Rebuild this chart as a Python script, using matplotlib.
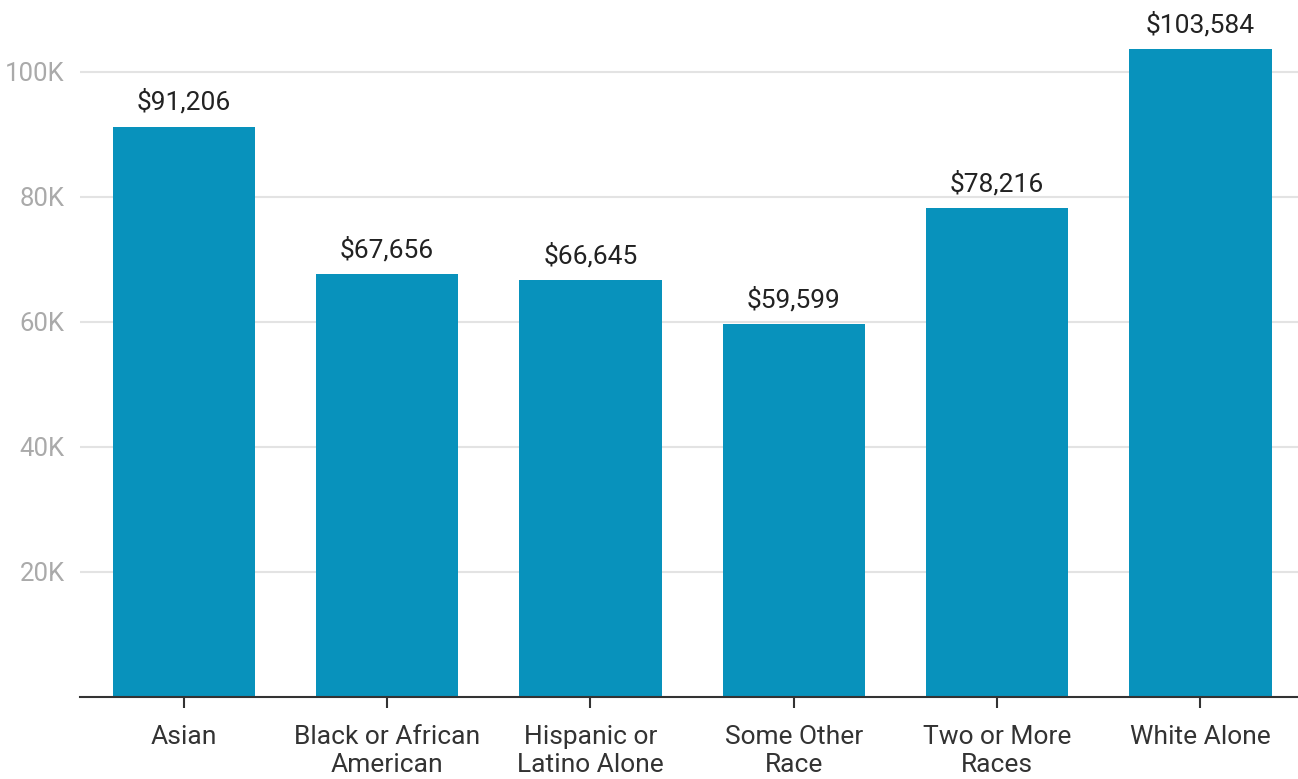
import matplotlib.pyplot as plt

plt.rcParams['font.family'] = ['Roboto', 'DejaVu Sans']

categories = ["Asian", "Black or African\nAmerican", "Hispanic or\nLatino Alone",
              "Some Other\nRace", "Two or More\nRaces", "White Alone"]
income = [91206, 67656, 66645, 59599, 78216, 103584]
yticks = [20000, 40000, 60000, 80000, 100000]
ytick_labels = ["20K", "40K", "60K", "80K", "100K"]

fig = plt.figure(figsize=(12.98, 7.79), dpi=100)
ax = fig.add_axes([80 / 1298, 1 - 697 / 779, 1 - 80 / 1298, 697 / 779])

x = range(len(categories))
bars = ax.bar(x, income, width=0.70, color='#0892bc', zorder=2)
for b, v in zip(bars, income):
    ax.annotate(f"${v:,}", (b.get_x() + b.get_width() / 2, v),
                xytext=(0, 12), textcoords='offset pixels',
                ha='center', va='bottom', fontsize=19, color='#222222')

ax.set_xlim(-0.51, 5.48)
ax.set_ylim(0, 111500)
ax.set_yticks(yticks)
ax.set_yticklabels(ytick_labels)
ax.set_xticks(list(x))
ax.set_xticklabels(categories)
ax.grid(axis='y', color='#e3e3e3', linewidth=1.5, zorder=0)

for s in ['top', 'right', 'left']:
    ax.spines[s].set_visible(False)
ax.spines['bottom'].set_color('#333333')
ax.spines['bottom'].set_linewidth(1.5)

ax.tick_params(axis='y', length=0, pad=11, labelsize=18.5, labelcolor='#aaaaaa')
ax.tick_params(axis='x', length=8, width=1.5, color='#333333', pad=12,
               labelsize=19, labelcolor='#333333')
for lbl in ax.get_xticklabels():
    lbl.set_linespacing(1.22)

fig.savefig('out.png', dpi=100)
plt.close()
